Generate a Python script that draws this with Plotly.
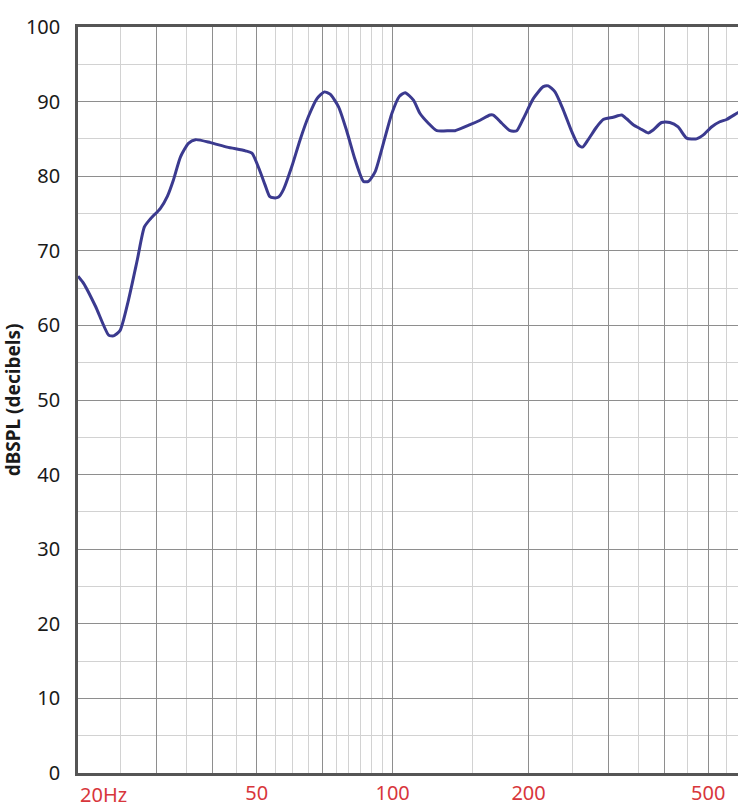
import math

import plotly.graph_objects as go

# Frequency response (Hz, dB SPL)
freq_hz = [20.1, 20.7, 22.0, 23.5, 24.1, 24.9, 26.0, 27.2, 28.2, 29.1,
           30.6, 31.7, 32.7, 33.9, 35.3, 36.6, 39.5, 43.0, 47.2, 48.8,
           50.9, 52.2, 53.4, 54.5, 55.9, 57.3, 59.8, 62.4, 65.1, 68.0,
           70.6, 72.7, 75.9, 79.2, 82.6, 86.2, 88.4, 91.5, 95.4, 99.6,
           103.5, 106.6, 111.2, 115.0, 120.0, 125.3, 134.0, 137.5, 148.4, 156.2,
           164.3, 167.1, 174.5, 182.0, 188.3, 194.7, 204.9, 215.6, 221.2, 228.9,
           238.7, 249.2, 257.7, 263.5, 271.1, 283.0, 292.7, 308.0, 321.5, 329.8,
           341.1, 352.8, 368.1, 377.6, 394.1, 411.1, 428.9, 447.7, 471.0, 487.1,
           508.4, 530.4, 548.9, 577.4, 585.0]
spl_db = [66.6, 65.6, 62.5, 58.7, 58.6, 59.3, 63.4, 68.8, 73.2, 74.3,
          75.7, 77.3, 79.5, 82.6, 84.4, 84.9, 84.5, 83.9, 83.4, 83.1,
          80.6, 78.8, 77.3, 77.1, 77.2, 78.2, 81.3, 84.9, 88.0, 90.4,
          91.3, 91.0, 89.3, 86.0, 82.2, 79.3, 79.3, 80.6, 84.4, 88.4,
          90.7, 91.2, 90.2, 88.4, 87.1, 86.1, 86.1, 86.1, 86.9, 87.5,
          88.2, 88.2, 87.1, 86.1, 86.1, 87.7, 90.4, 92.0, 92.1, 91.3,
          88.9, 86.0, 84.2, 83.9, 84.9, 86.6, 87.6, 87.9, 88.2, 87.7,
          86.9, 86.4, 85.8, 86.2, 87.2, 87.2, 86.6, 85.1, 85.0, 85.5,
          86.6, 87.3, 87.6, 88.4, 88.6]

# axis ticks / grid
major_x = [30, 40, 50, 70, 100, 200, 300, 400, 500]
major_x_text = ["", "", "50", "", "100", "200", "", "", "500"]
minor_x = [25, 35, 45, 55, 60, 65, 75, 80, 85, 90, 95,
           150, 250, 350, 450, 550]
x_min, x_max = 20.1, 582

RED = "#d8363c"
DARK_GRID = "#8e8e8e"
LIGHT_GRID = "#d2d2d2"
FONT = "Noto Sans, sans-serif"
x_range = [math.log10(x_min), math.log10(x_max)]

fig = go.Figure()
fig.add_trace(go.Scatter(
    x=freq_hz, y=spl_db, mode="lines", xaxis="x2", yaxis="y",
    line=dict(color="#3b3a8f", width=3, shape="spline", smoothing=0.6),
    showlegend=False, hoverinfo="skip",
))

fig.update_layout(
    width=738, height=812,
    margin=dict(l=78, r=0, t=27, b=39),
    paper_bgcolor="white", plot_bgcolor="white",
    font=dict(family=FONT, color="#1a1a1a"),
    # light grid lines (and the frame) on the base axis
    xaxis=dict(
        type="log", range=x_range,
        tickmode="array", tickvals=minor_x, showticklabels=False, ticks="",
        showgrid=True, gridcolor=LIGHT_GRID, gridwidth=1.3,
        showline=True, linecolor="#555555", linewidth=2.5, mirror=True,
        zeroline=False,
    ),
    # darker grid lines and the red labels on an overlaid axis
    xaxis2=dict(
        type="log", range=x_range, overlaying="x", side="bottom",
        tickmode="array", tickvals=major_x, ticktext=major_x_text,
        tickfont=dict(size=20, color=RED),
        ticks="", ticklabelstandoff=6,
        showgrid=True, gridcolor=DARK_GRID, gridwidth=1.3,
        showline=False, zeroline=False,
    ),
    yaxis=dict(
        range=[0, 100], dtick=10,
        tickfont=dict(size=20, color="#1a1a1a"),
        ticks="", ticklabelstandoff=11,
        showgrid=True, gridcolor=DARK_GRID, gridwidth=1.3,
        minor=dict(dtick=5, showgrid=True, gridcolor=LIGHT_GRID, gridwidth=1.3),
        showline=True, linecolor="#555555", linewidth=2.5,
        zeroline=False,
        title=dict(text="<b>dBSPL (decibels)</b>",
                   font=dict(size=19, color="#1a1a1a"), standoff=8),
    ),
)

# the first frequency label sits left-aligned at the axis start
fig.add_annotation(
    x=x_range[0], xref="x", xanchor="left",
    y=0, yref="paper", yanchor="top", yshift=-6,
    text="20Hz", showarrow=False,
    font=dict(size=20, color=RED),
)

fig.write_html("out.html", config={"displayModeBar": False},
               post_script="document.body.style.margin='0';")
